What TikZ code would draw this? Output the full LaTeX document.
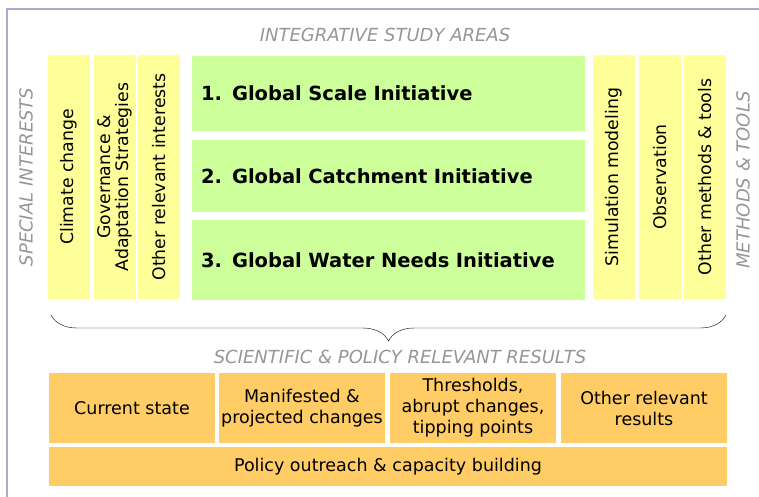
\documentclass[tikz,border=0pt]{standalone}
\usepackage{fontspec}
\setmainfont{DejaVu Sans}
\usetikzlibrary{decorations.pathreplacing}
\definecolor{rahmen}{RGB}{170,170,210}
\definecolor{interest}{RGB}{255,255,153}
\definecolor{initiative}{RGB}{204,255,153}
\definecolor{result}{RGB}{255,204,102}
\definecolor{caption}{RGB}{150,150,150}

\tikzset{
    column/.style={fill=interest, rotate=90, minimum width=244pt, minimum height=42pt,
        inner sep=0pt, align=center, font=\fontsize{17.3}{18}\selectfont},
    area/.style={fill=initiative, minimum width=393pt, text width=375pt, inner xsep=9pt,
        inner ysep=0pt, align=left, font=\fontsize{19.5}{22}\selectfont\bfseries},
    result box/.style={fill=result, minimum width=166pt, minimum height=70pt, inner sep=0pt,
        align=center, font=\fontsize{17.5}{21}\selectfont},
    heading/.style={caption, font=\fontsize{18}{21}\selectfont\itshape, inner sep=0pt}
}

\begin{document}
\begin{tikzpicture}[x=1pt, y=-1pt]

    \useasboundingbox (0,0) rectangle (759,497);
    \draw[rahmen, line width=1.2pt] (7,497) -- (7,9) -- (759,9);

    \node[heading] (studyareas) at (385,35) {INTEGRATIVE STUDY AREAS};
    \node[heading, rotate=90] (special) at (26,177) {SPECIAL INTERESTS};
    \node[heading, rotate=90] (methods) at (743,180) {METHODS \& TOOLS};

    % special interests
    \node[column] (climate) at (69,177) {Climate change};
    \node[column] (governance) at (115,177) {Governance \&\\Adaptation Strategies};
    \node[column] (otherint) at (159,177) {Other relevant interests};

    % initiatives
    \node[area, minimum height=75pt] (scale) at (388.5,93.5) {\makebox[31pt][l]{1.}Global Scale Initiative};
    \node[area, minimum height=72pt] (catchment) at (388.5,176) {\makebox[31pt][l]{2.}Global Catchment Initiative};
    \node[area, minimum height=80pt] (needs) at (388.5,260) {\makebox[31pt][l]{3.}Global Water Needs Initiative};

    % methods & tools
    \node[column] (simulation) at (614,177) {Simulation modeling};
    \node[column] (observation) at (660,177) {Observation};
    \node[column] (othertools) at (705,177) {Other methods \& tools};

    \coordinate (braceL) at (51,315);
    \coordinate (braceR) at (726,315);
    \draw[decorate, decoration={brace, mirror, amplitude=26pt}] (braceL) -- (braceR);

    \node[heading] (results) at (400,357) {SCIENTIFIC \& POLICY RELEVANT RESULTS};

    % results
    \node[result box] (current) at (132,408) {Current state};
    \node[result box] (manifested) at (302,408) {Manifested \&\\projected changes};
    \node[result box] (thresholds) at (473,408) {Thresholds,\\abrupt changes,\\tipping points};
    \node[result box] (otherres) at (644,408) {Other relevant\\results};
    \node[result box, minimum width=678pt, minimum height=39pt] (outreach) at (388,466.5) {Policy outreach \& capacity building};

\end{tikzpicture}
\end{document}
